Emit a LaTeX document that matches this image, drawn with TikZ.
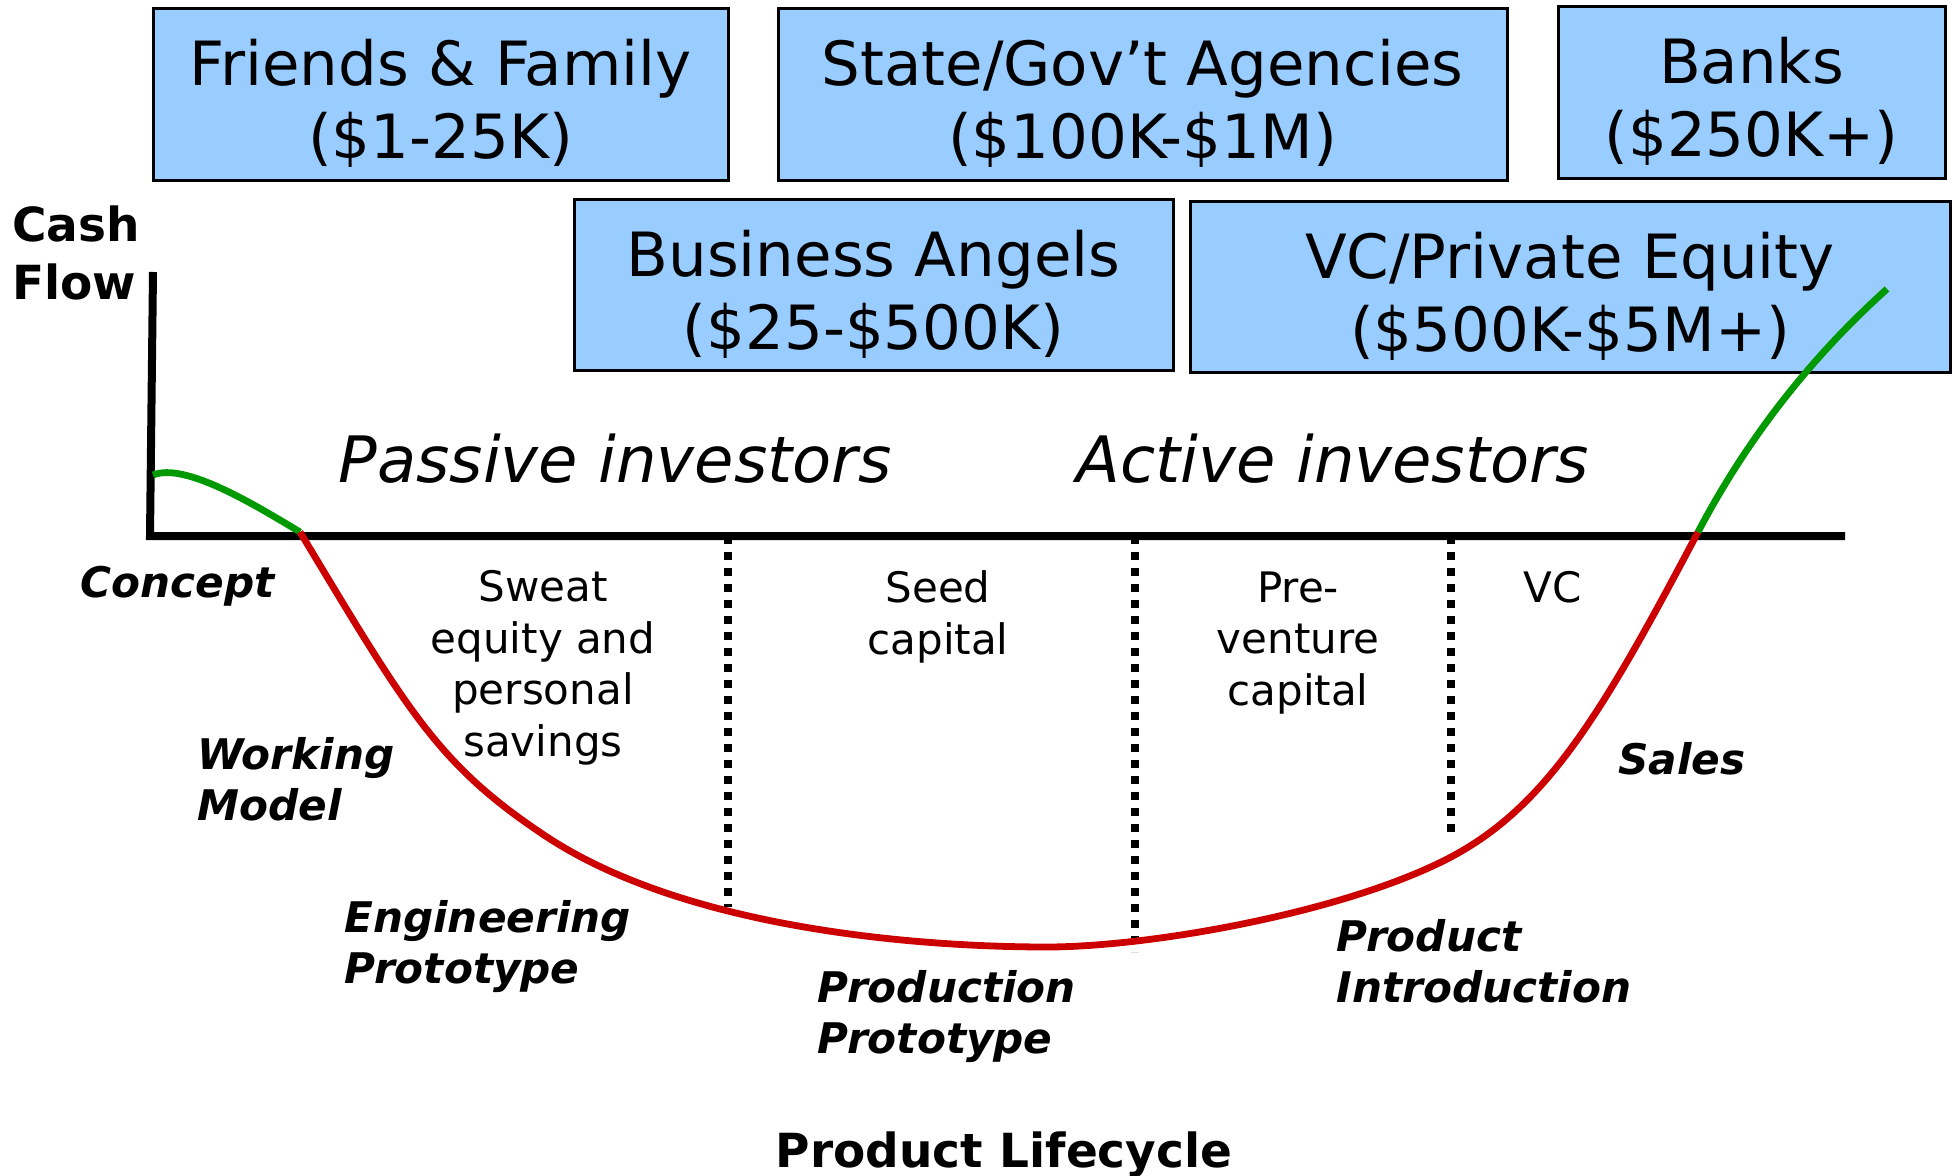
\documentclass[tikz,border=0pt]{standalone}
\usepackage{fontspec}
\setmainfont{DejaVu Sans}
\definecolor{boxblue}{HTML}{99CCFF}
\definecolor{curvered}{HTML}{CC0000}
\definecolor{curvegreen}{HTML}{009900}
\begin{document}
\begin{tikzpicture}[x=0.5pt, y=-0.5pt,
  fundbox/.style={draw=black, line width=1.5pt, fill=boxblue, inner sep=0pt, minimum height=86pt},
  fundtext/.style={font=\fontsize{30.5pt}{36.5pt}\selectfont, align=center, inner sep=0pt},
  axisline/.style={line width=4pt, black},
  divider/.style={line width=4pt, black, dash pattern=on 4pt off 4pt},
  redcurve/.style={line width=3.4pt, curvered},
  greencurve/.style={line width=3.4pt, curvegreen},
  axislabel/.style={font=\bfseries\fontsize{23.5pt}{29pt}\selectfont, align=left, inner sep=0pt},
  investor/.style={font=\itshape\fontsize{32pt}{38pt}\selectfont, inner sep=0pt},
  stage/.style={font=\bfseries\itshape\fontsize{21.1pt}{25.5pt}\selectfont, align=left, inner sep=0pt, anchor=west},
  phase/.style={font=\fontsize{21pt}{25.75pt}\selectfont, align=center, inner sep=0pt}
]
\useasboundingbox (0,0) rectangle (1954,1176);

% funding boxes
\node[fundbox, minimum width=287.5pt] (ff) at (440.5,95) {};
\node[fundtext] (fft) at (440.5,103.5) {Friends \& Family\\(\$1-25K)};
\node[fundbox, minimum width=364.5pt] (gov) at (1142.5,95) {};
\node[fundtext] (govt) at (1142.5,103.5) {State/Gov’t Agencies\\(\$100K-\$1M)};
\node[fundbox, minimum width=193.5pt] (banks) at (1751.5,93) {};
\node[fundtext] (bankst) at (1751.5,101) {Banks\\(\$250K+)};
\node[fundbox, minimum width=299.5pt, minimum height=85.5pt] (ba) at (873.5,285.5) {};
\node[fundtext] (bat) at (873.5,294.5) {Business Angels\\(\$25-\$500K)};
\node[fundbox, minimum width=380pt, minimum height=85.5pt] (vcpe) at (1570,287.5) {};
\node[fundtext] (vcpet) at (1570,296) {VC/Private Equity\\(\$500K-\$5M+)};

% axes
\coordinate (ytop) at (153,272);
\coordinate (origin) at (150,536);
\coordinate (xend) at (1845,536);
\draw[axisline] (ytop) -- (origin) -- (xend);

% stage dividers
\coordinate (d1t) at (728,536);  \coordinate (d1b) at (728,907);
\coordinate (d2t) at (1135,536); \coordinate (d2b) at (1135,952);
\coordinate (d3t) at (1451,536); \coordinate (d3b) at (1451,832);
\draw[divider] (d1t) -- (d1b);
\draw[divider] (d2t) -- (d2b);
\draw[divider] (d3t) -- (d3b);

% cash flow curve
\coordinate (c0) at (153,475);
\coordinate (c1) at (300,532);
\coordinate (c2) at (1698,532);
\coordinate (c3) at (1887,289);
\draw[greencurve] (c0) .. controls (185,462) and (255,505) .. (c1);
\draw[redcurve] (c1) .. controls (409,713) and (438,765) .. (547,837)
  .. controls (684,927) and (910,947) .. (1047,947)
  .. controls (1151,947) and (1347,912) .. (1451,857)
  .. controls (1547,806) and (1602,714) .. (c2);
\draw[greencurve] (c2) .. controls (1757,420) and (1828,342) .. (c3);

% labels
\node[axislabel, anchor=west] (cf) at (12,253) {Cash\\Flow};
\node[investor] (passive) at (615,459) {Passive investors};
\node[investor] (active) at (1333,459) {Active investors};
\node[stage] (concept) at (80,586) {Concept};
\node[stage] (working) at (197,779) {Working\\Model};
\node[stage] (eng) at (344,947) {Engineering\\Prototype};
\node[stage] (prod) at (817,1017) {Production\\Prototype};
\node[stage] (intro) at (1336,961) {Product\\Introduction};
\node[stage] (sales) at (1618,759) {Sales};
\node[phase] (sweat) at (543,668) {Sweat\\equity and\\personal\\savings};
\node[phase] (seed) at (938,617) {Seed\\capital};
\node[phase] (prev) at (1298,643) {Pre-\\venture\\capital};
\node[phase] (vc) at (1553,587) {VC};
\node[axislabel, align=center] (plc) at (1004,1155) {Product Lifecycle};
\end{tikzpicture}
\end{document}
